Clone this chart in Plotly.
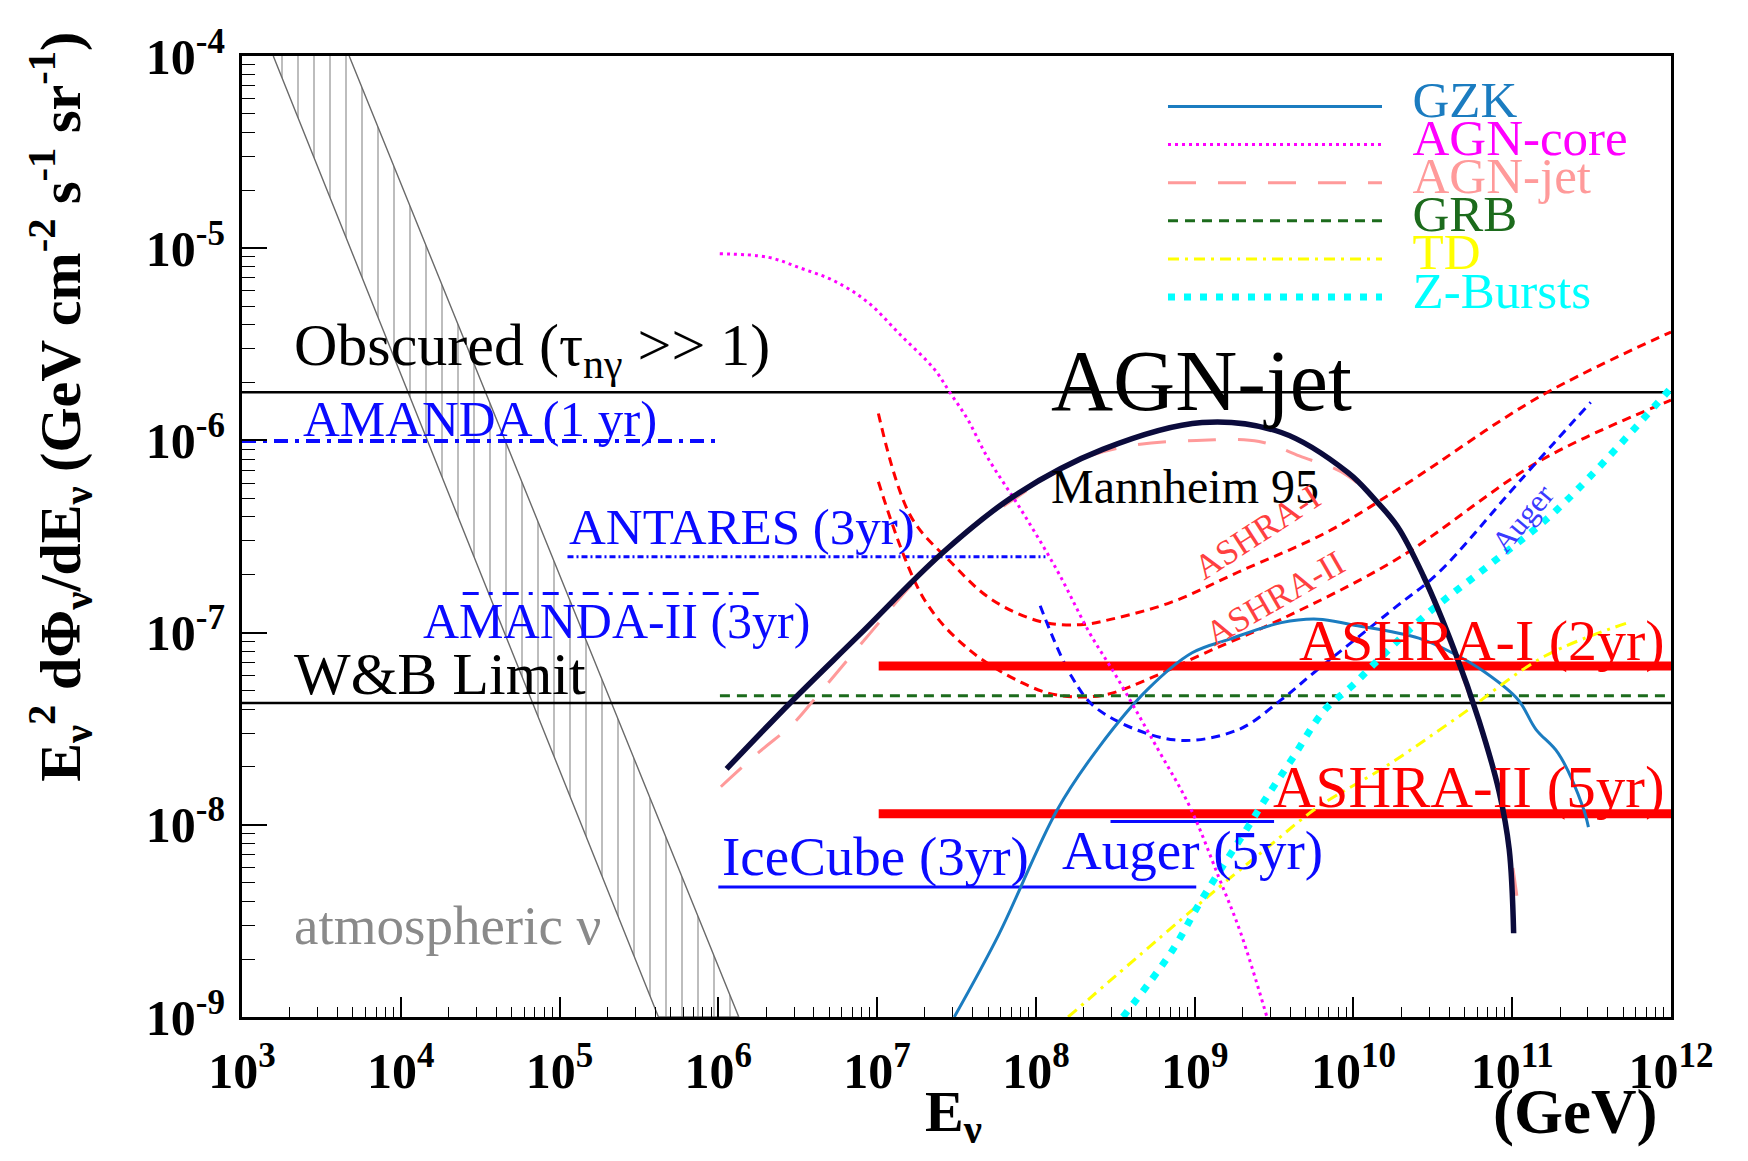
import numpy as np
import plotly.graph_objects as go

FONT = "Liberation Serif"

# ---------------- axis definitions ----------------
x_tick_vals = [1e3, 1e4, 1e5, 1e6, 1e7, 1e8, 1e9, 1e10, 1e11, 1e12]
x_tick_text = ["10<sup>3</sup>", "10<sup>4</sup>", "10<sup>5</sup>", "10<sup>6</sup>", "10<sup>7</sup>",
               "10<sup>8</sup>", "10<sup>9</sup>", "10<sup>10</sup>", "10<sup>11</sup>", "10<sup>12</sup>"]
y_tick_vals = [1e-9, 1e-8, 1e-7, 1e-6, 1e-5, 1e-4]
y_tick_text = ["10<sup>-9</sup>", "10<sup>-8</sup>", "10<sup>-7</sup>", "10<sup>-6</sup>",
               "10<sup>-5</sup>", "10<sup>-4</sup>"]

# ---------------- data (log10 E [GeV], log10 flux) ----------------
# atmospheric neutrino band (polygon corners)
atm_logE = [3.197, 5.623, 6.129, 3.675]
atm_logF = [-4.0, -9.0, -9.0, -4.0]

# horizontal reference levels
obscured_logE = [3.0, 12.0]
obscured_logF = [-5.75, -5.75]
wb_logE = [3.0, 12.0]
wb_logF = [-7.366, -7.366]

# experimental limits / sensitivities (flat segments)
amanda1_logE = [3.0, 6.0]
amanda1_logF = [-6.003, -6.003]
antares_logE = [5.05, 8.06]
antares_logF = [-6.605, -6.605]
amanda2_logE = [4.39, 6.30]
amanda2_logF = [-6.797, -6.797]
icecube_logE = [6.0, 9.01]
icecube_logF = [-8.323, -8.323]
auger5_logE = [8.47, 9.50]
auger5_logF = [-7.983, -7.983]
ashra1bar_logE = [7.01, 12.0]
ashra1bar_logF = [-7.174, -7.174]
ashra2bar_logE = [7.01, 12.0]
ashra2bar_logF = [-7.942, -7.942]
grb_logE = [6.01, 12.0]
grb_logF = [-7.329, -7.329]

# Mannheim 95 AGN-jet model
mann_logE = [6.052, 6.452, 6.888, 7.409, 7.859, 8.421, 9.047, 9.546, 9.968, 10.123,
             10.277, 10.439, 10.636, 10.791, 10.917, 10.981, 11.009]
mann_logF = [-7.709, -7.366, -7.012, -6.587, -6.291, -6.047, -5.907, -5.959, -6.169, -6.297,
             -6.448, -6.703, -7.093, -7.459, -7.826, -8.128, -8.564]

# AGN-jet (legend model)
agnjet_logE = [6.016, 6.256, 6.467, 6.621, 6.959, 7.212, 7.521, 7.859, 8.224, 8.590,
               9.012, 9.406, 9.659, 9.968, 10.277, 10.636, 10.917, 11.037]
agnjet_logF = [-7.802, -7.622, -7.477, -7.331, -7.0, -6.756, -6.5, -6.308, -6.116, -6.029,
               -6.0, -6.006, -6.081, -6.186, -6.459, -7.116, -7.837, -8.419]

# AGN-core
agncore_logE = [6.009, 6.312, 6.523, 6.727, 6.938, 7.149, 7.359, 7.458, 7.570, 7.690,
                7.915, 8.140, 8.337, 8.506, 8.759, 8.970, 9.152, 9.293, 9.455]
agncore_logF = [-5.029, -5.047, -5.105, -5.169, -5.279, -5.453, -5.628, -5.750, -5.890, -6.081,
                -6.372, -6.686, -7.0, -7.227, -7.593, -7.907, -8.273, -8.570, -9.0]

# GZK
gzk_logE = [7.486, 7.767, 8.133, 8.400, 8.702, 8.984, 9.216, 9.546, 9.778, 9.989,
            10.411, 10.622, 10.833, 11.037, 11.149, 11.290, 11.445, 11.480]
gzk_logF = [-9.0, -8.570, -7.924, -7.593, -7.297, -7.105, -7.035, -6.948, -6.930, -6.959,
            -7.029, -7.105, -7.209, -7.349, -7.503, -7.628, -7.907, -8.012]

# Auger sensitivity curve (blue dashed)
augercurve_logE = [8.027, 8.224, 8.393, 8.871, 9.272, 9.546, 9.750, 10.277, 10.531, 11.044, 11.494]
augercurve_logF = [-6.860, -7.227, -7.401, -7.558, -7.506, -7.349, -7.209, -6.860, -6.692, -6.215, -5.802]

# ASHRA-I sensitivity curve
ashra1_logE = [7.008, 7.212, 7.465, 7.718, 8.027, 8.281, 8.477, 8.850, 9.272, 9.834, 10.320, 11.171, 12.0]
ashra1_logF = [-5.860, -6.395, -6.634, -6.826, -6.942, -6.959, -6.930, -6.843, -6.686, -6.477, -6.233, -5.773, -5.436]

# ASHRA-II sensitivity curve
ashra2_logE = [7.008, 7.296, 7.577, 7.915, 8.140, 8.421, 8.702, 9.068, 9.546, 10.277, 11.178, 12.0]
ashra2_logF = [-6.215, -6.826, -7.087, -7.262, -7.326, -7.326, -7.244, -7.105, -6.930, -6.616, -6.105, -5.791]

# Topological defects
td_logE = [8.203, 9.152, 9.462, 9.778, 10.200, 10.664, 11.206, 11.754]
td_logF = [-9.0, -8.326, -8.116, -7.907, -7.698, -7.436, -7.122, -6.942]

# Z-Bursts
zb_logE = [8.548, 8.857, 9.040, 9.335, 9.441, 9.609, 9.820, 9.989, 10.158, 10.453, 10.861, 11.283, 12.0]
zb_logF = [-9.0, -8.657, -8.395, -8.012, -7.872, -7.663, -7.401, -7.279, -7.140, -6.910, -6.645, -6.360, -5.727]

# ---------------- colours ----------------
C_BLUE = "#0a0aff"
C_RED = "#ff0000"
C_GZK = "#1b7cc0"
C_CORE = "#ff00ff"
C_JET = "#ff9a9a"
C_GRB = "#1c6b1c"
C_TD = "#ffff00"
C_ZB = "#00ffff"
C_MANN = "#0b0b3c"


def P(v):
    return 10 ** np.asarray(v, dtype=float)


def leg_name(label, color):
    return ("<span style='font-size:51px;color:%s'>\u00a0\u00a0%s</span>" % (color, label))


fig = go.Figure()

# atmospheric band with vertical hatching
fig.add_trace(go.Scatter(
    x=P(atm_logE), y=P(atm_logF), mode="lines", fill="toself",
    fillcolor="rgba(255,255,255,0)",
    fillpattern=dict(shape="|", size=16, solidity=0.1, fgcolor="#5a5a5a",
                     bgcolor="rgba(255,255,255,0)", fillmode="overlay"),
    line=dict(color="#6a6a6a", width=1.4), showlegend=False, hoverinfo="skip"))

# horizontal reference lines
for xe, yf in [(obscured_logE, obscured_logF), (wb_logE, wb_logF)]:
    fig.add_trace(go.Scatter(x=P(xe), y=P(yf), mode="lines",
                             line=dict(color="black", width=2.5), showlegend=False))

# experiment lines
fig.add_trace(go.Scatter(x=P(amanda1_logE), y=P(amanda1_logF), mode="lines",
                         line=dict(color=C_BLUE, width=4, dash="14px,7px,4px,7px"), showlegend=False))
fig.add_trace(go.Scatter(x=P(antares_logE), y=P(antares_logF), mode="lines",
                         line=dict(color=C_BLUE, width=3, dash="6px,3px,2px,3px"), showlegend=False))
fig.add_trace(go.Scatter(x=P(amanda2_logE), y=P(amanda2_logF), mode="lines",
                         line=dict(color=C_BLUE, width=3, dash="16px,10px,4px,10px"), showlegend=False))
fig.add_trace(go.Scatter(x=P(icecube_logE), y=P(icecube_logF), mode="lines",
                         line=dict(color=C_BLUE, width=3), showlegend=False))
fig.add_trace(go.Scatter(x=P(auger5_logE), y=P(auger5_logF), mode="lines",
                         line=dict(color=C_BLUE, width=3), showlegend=False))

# sensitivity curves
fig.add_trace(go.Scatter(x=P(ashra1_logE), y=P(ashra1_logF), mode="lines", line_shape="spline",
                         line=dict(color=C_RED, width=3, dash="9px,6px"), showlegend=False))
fig.add_trace(go.Scatter(x=P(ashra2_logE), y=P(ashra2_logF), mode="lines", line_shape="spline",
                         line=dict(color=C_RED, width=3, dash="9px,6px"), showlegend=False))
fig.add_trace(go.Scatter(x=P(augercurve_logE), y=P(augercurve_logF), mode="lines", line_shape="spline",
                         line=dict(color=C_BLUE, width=3, dash="9px,6px"), showlegend=False))

# model curves (legend)
fig.add_trace(go.Scatter(x=P(agnjet_logE), y=P(agnjet_logF), mode="lines", line_shape="spline",
                         line=dict(color=C_JET, width=3, dash="28px,22px"),
                         name=leg_name("AGN-jet", C_JET), legendrank=3))
fig.add_trace(go.Scatter(x=P(grb_logE), y=P(grb_logF), mode="lines",
                         line=dict(color=C_GRB, width=3, dash="10px,7px"),
                         name=leg_name("GRB", C_GRB), legendrank=4))
fig.add_trace(go.Scatter(x=P(ashra1bar_logE), y=P(ashra1bar_logF), mode="lines",
                         line=dict(color=C_RED, width=9), showlegend=False))
fig.add_trace(go.Scatter(x=P(ashra2bar_logE), y=P(ashra2bar_logF), mode="lines",
                         line=dict(color=C_RED, width=9), showlegend=False))
fig.add_trace(go.Scatter(x=P(gzk_logE), y=P(gzk_logF), mode="lines", line_shape="spline",
                         line=dict(color=C_GZK, width=3),
                         name=leg_name("GZK", C_GZK), legendrank=1))
fig.add_trace(go.Scatter(x=P(agncore_logE), y=P(agncore_logF), mode="lines", line_shape="spline",
                         line=dict(color=C_CORE, width=3, dash="3px,4px"),
                         name=leg_name("AGN-core", C_CORE), legendrank=2))
fig.add_trace(go.Scatter(x=P(td_logE), y=P(td_logF), mode="lines", line_shape="spline",
                         line=dict(color=C_TD, width=3, dash="11px,6px,3px,6px"),
                         name=leg_name("TD", C_TD), legendrank=5))
fig.add_trace(go.Scatter(x=P(zb_logE), y=P(zb_logF), mode="lines", line_shape="spline",
                         line=dict(color=C_ZB, width=7, dash="7px,9px"),
                         name=leg_name("Z-Bursts", C_ZB), legendrank=6))
fig.add_trace(go.Scatter(x=P(mann_logE), y=P(mann_logF), mode="lines", line_shape="spline",
                         line=dict(color=C_MANN, width=5.5), showlegend=False))

# ---------------- text labels (data coords are log10 for log axes) ----------------
labels = [
    ("Obscured (τ<sub>nγ</sub> &gt;&gt; 1)", 3.316, -5.529, "black", 60, "left"),
    ("AMANDA (1 yr)", 3.373, -5.890, C_BLUE, 51, "left"),
    ("ANTARES (3yr)", 5.046, -6.453, C_BLUE, 51, "left"),
    ("AMANDA-II (3yr)", 4.125, -6.942, C_BLUE, 50, "left"),
    ("W&amp;B Limit", 3.316, -7.215, "black", 60, "left"),
    ("atmospheric ν", 3.316, -8.523, "#8a8a8a", 55, "left"),
    ("IceCube (3yr)", 6.009, -8.163, C_BLUE, 55, "left"),
    ("Auger (5yr)", 8.154, -8.134, C_BLUE, 55, "left"),
    ("ASHRA-I (2yr)", 11.972, -7.041, C_RED, 58, "right"),
    ("ASHRA-II (5yr)", 11.972, -7.802, C_RED, 59, "right"),
    ("AGN-jet", 8.084, -5.692, "black", 86, "left"),
    ("Mannheim 95", 8.084, -6.238, "black", 48, "left"),
]
for txt, lx, ly, col, size, xa in labels:
    fig.add_annotation(x=lx, y=ly, xref="x", yref="y", text=txt, showarrow=False,
                       xanchor=xa, yanchor="middle",
                       font=dict(family=FONT, size=size, color=col))

rot_labels = [
    ("ASHRA-I", 9.392, -6.477, "#ff4040", 35, -33),
    ("ASHRA-II", 9.504, -6.820, "#ff4040", 35, -30),
    ("Auger", 11.065, -6.407, "#3a3aff", 31, -50),
]
for txt, lx, ly, col, size, ang in rot_labels:
    fig.add_annotation(x=lx, y=ly, xref="x", yref="y", text=txt, showarrow=False,
                       textangle=ang, font=dict(family=FONT, size=size, color=col))

# axis titles
fig.add_annotation(
    text="E<sub>ν</sub><sup>2</sup> dΦ<sub>ν</sub>/dE<sub>ν</sub> (GeV cm<sup>-2</sup> s<sup>-1</sup> sr<sup>-1</sup>)",
    xref="paper", yref="paper", x=-0.1274, y=0.635, textangle=-90, showarrow=False,
    xanchor="center", yanchor="middle",
    font=dict(family=FONT, size=58, color="black", weight="bold"))
fig.add_annotation(text="E<sub>ν</sub>", xref="paper", yref="paper", x=0.498, y=-0.103,
                   showarrow=False, xanchor="center", yanchor="middle",
                   font=dict(family=FONT, size=58, color="black", weight="bold"))
fig.add_annotation(text="(GeV)", xref="paper", yref="paper", x=0.9328, y=-0.0985,
                   showarrow=False, xanchor="center", yanchor="middle",
                   font=dict(family=FONT, size=63, color="black", weight="bold"))

tickfont = dict(family=FONT, size=50, color="black", weight="bold")

fig.update_xaxes(type="log", range=[3, 12], tickmode="array", tickvals=x_tick_vals, ticktext=x_tick_text,
                 ticks="inside", ticklen=20, tickwidth=1.5, tickcolor="black",
                 minor=dict(ticks="inside", ticklen=10, tickwidth=1.2, tickcolor="black",
                            dtick="D1", showgrid=False),
                 showline=True, linecolor="black", linewidth=3, mirror=True,
                 showgrid=False, zeroline=False, tickfont=tickfont, ticklabelstandoff=8)
fig.update_yaxes(type="log", range=[-9, -4], tickmode="array", tickvals=y_tick_vals, ticktext=y_tick_text,
                 ticks="inside", ticklen=25, tickwidth=1.5, tickcolor="black",
                 minor=dict(ticks="inside", ticklen=13, tickwidth=1.2, tickcolor="black",
                            dtick="D1", showgrid=False),
                 showline=True, linecolor="black", linewidth=3, mirror=True,
                 showgrid=False, zeroline=False, tickfont=tickfont, ticklabelstandoff=4)

# page body has an 8px margin: size/margins chosen so the frame lands at
# x 242..1671, y 56..1017 in the browser window
fig.update_layout(
    width=1732, height=1145,
    margin=dict(l=234, r=69, t=48, b=136),
    paper_bgcolor="white", plot_bgcolor="white",
    legend=dict(x=0.6445, y=0.9725, xanchor="left", yanchor="top",
                font=dict(family=FONT, size=27), itemwidth=214,
                bgcolor="rgba(0,0,0,0)", borderwidth=0, traceorder="normal"),
    hovermode=False,
)

fig.write_html("out.html")
